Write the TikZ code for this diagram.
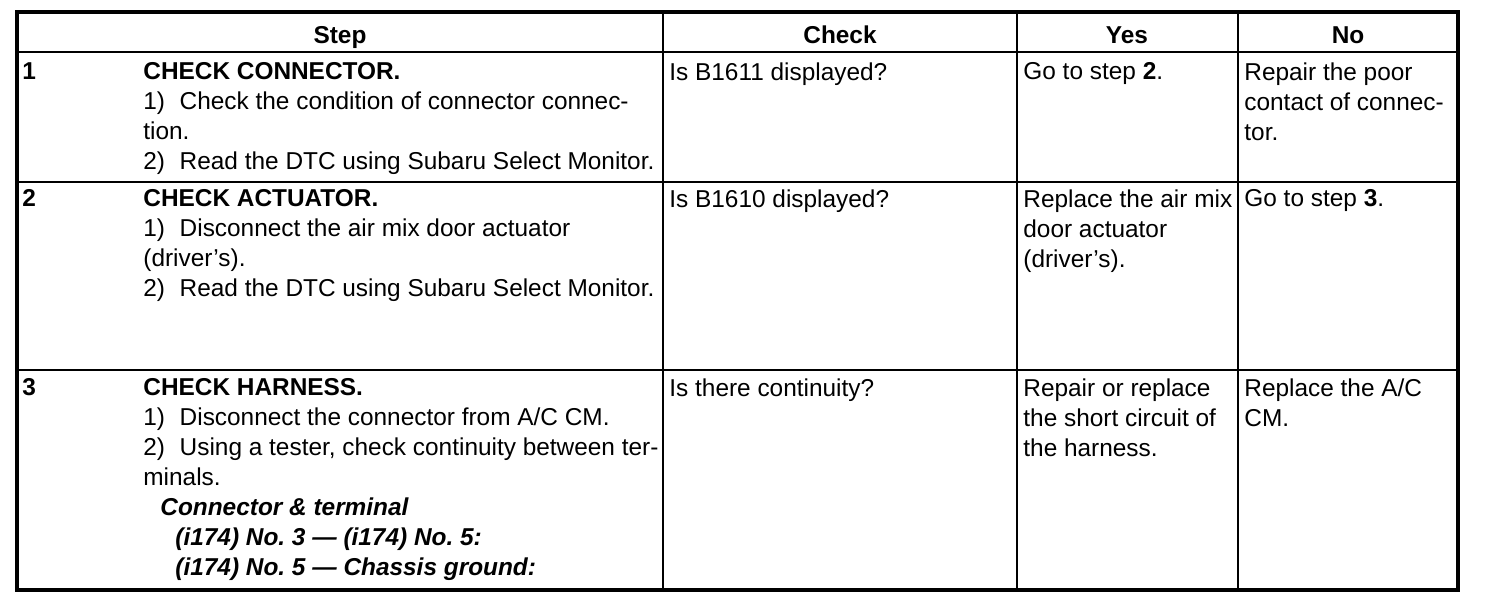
\documentclass[tikz,border=0pt]{standalone}
\usepackage{fontspec}
\setmainfont{Liberation Sans}
\frenchspacing

\gdef\Rfont{\fontsize{12.2}{15}\selectfont}

\tikzset{
  txt/.style={anchor=north west, inner sep=0pt, align=left, font=\Rfont},
  num/.style={txt, font=\Rfont\bfseries},
  head/.style={anchor=base, inner sep=0pt, font=\Rfont\bfseries},
  frame/.style={line width=2pt},
  rule/.style={line width=1.3pt},
}

\begin{document}
\begin{tikzpicture}[x=0.5pt, y=-0.5pt]
\useasboundingbox (0,0) rectangle (1504,604);
\draw[frame] (17,12) rectangle (1458,590);
\draw[line width=1pt] (17,52) -- (1458,52);
\foreach \y in {182,370}
  \draw[rule] (17,\y) -- (1458,\y);
\foreach \x in {663,1017,1238}
  \draw[rule] (\x,12) -- (\x,590);

\node[head] (hStep) at (340,44) {Step};
\node[head] (hCheck) at (840,44) {Check};
\node[head] (hYes) at (1127,44) {Yes};
\node[head] (hNo) at (1348,44) {No};

\node[num] (n1) at (22,62) {1};
\node[txt] (s1) at (143,62) {\textbf{CHECK CONNECTOR.}\\
  1)\hspace{0.6em}Check the condition of connector connec-\\
  tion.\\
  2)\hspace{0.6em}Read the DTC using Subaru Select Monitor.};
\node[txt] (c1) at (669,62) {Is B1611 displayed?};
\node[txt] (y1) at (1023,62) {Go to step \textbf{2}.};
\node[txt] (no1) at (1244,62) {Repair the poor\\contact of connec-\\tor.};

\node[num] (n2) at (22,189) {2};
\node[txt] (s2) at (143,189) {\textbf{CHECK ACTUATOR.}\\
  1)\hspace{0.6em}Disconnect the air mix door actuator\\
  (driver's).\\
  2)\hspace{0.6em}Read the DTC using Subaru Select Monitor.};
\node[txt] (c2) at (669,189) {Is B1610 displayed?};
\node[txt] (y2) at (1023,189) {Replace the air mix\\door actuator\\(driver's).};
\node[txt] (no2) at (1244,189) {Go to step \textbf{3}.};

\node[num] (n3) at (22,378) {3};
\node[txt] (s3) at (143,378) {\textbf{CHECK HARNESS.}\\
  1)\hspace{0.6em}Disconnect the connector from A/C CM.\\
  2)\hspace{0.6em}Using a tester, check continuity between ter-\\
  minals.\\
  \hspace*{8.5pt}\textbf{\textit{Connector \& terminal}}\\
  \hspace*{16pt}\textbf{\textit{(i174) No. 3 — (i174) No. 5:}}\\
  \hspace*{16pt}\textbf{\textit{(i174) No. 5 — Chassis ground:}}};
\node[txt] (c3) at (669,378) {Is there continuity?};
\node[txt] (y3) at (1023,378) {Repair or replace\\the short circuit of\\the harness.};
\node[txt] (no3) at (1244,378) {Replace the A/C\\CM.};
\end{tikzpicture}
\end{document}
